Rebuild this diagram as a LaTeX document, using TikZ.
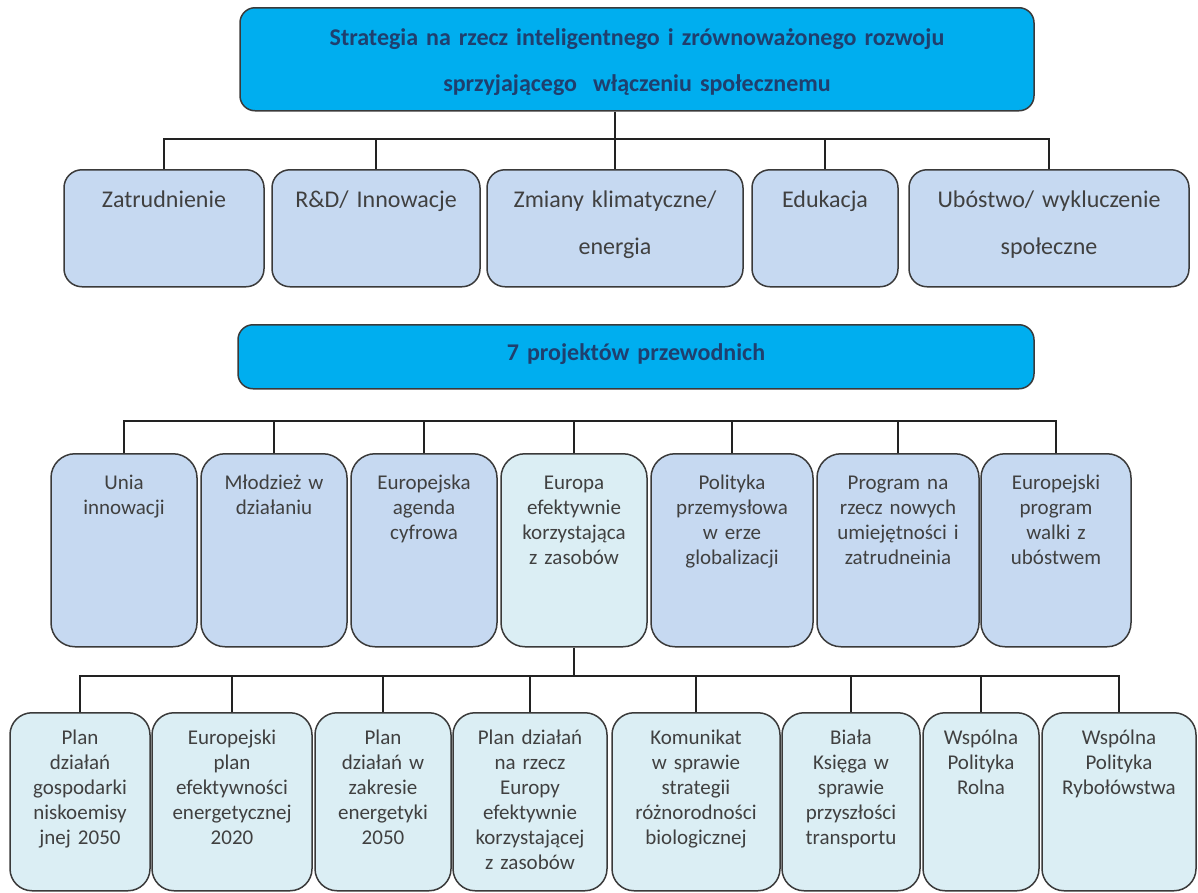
\documentclass[tikz,border=0pt]{standalone}
\usepackage{fontspec}
\setmainfont{Carlito}

\definecolor{headfill}{RGB}{0,174,239}
\definecolor{headtext}{RGB}{31,63,110}
\definecolor{goalfill}{RGB}{198,217,241}
\definecolor{planfill}{RGB}{219,238,244}
\definecolor{boxline}{RGB}{58,58,58}
\definecolor{boxtext}{RGB}{64,64,64}
\definecolor{busline}{RGB}{34,34,34}

\tikzset{
	head/.style={draw=boxline, line width=1.5pt, fill=headfill, rounded corners=15pt, anchor=north, align=center, inner sep=0pt, text=headtext, font=\fontsize{24}{46}\selectfont\bfseries},
	goal/.style={draw=boxline, line width=1.5pt, fill=goalfill, rounded corners=18pt, anchor=north, align=center, inner sep=0pt, text=boxtext, font=\fontsize{24}{47}\selectfont, text height=38pt, text depth=79pt},
	flag/.style={draw=boxline, line width=1.5pt, fill=goalfill, rounded corners=24pt, anchor=north, align=center, inner sep=0pt, text=boxtext, font=\fontsize{21}{25}\selectfont, text height=36pt, text depth=157pt},
	plan/.style={draw=boxline, line width=1.5pt, fill=planfill, rounded corners=22pt, anchor=north, align=center, inner sep=0pt, text=boxtext, font=\fontsize{21}{25}\selectfont, text height=32pt, text depth=146pt},
	bus/.style={draw=busline, line width=2pt}
}

\begin{document}
\begin{tikzpicture}[x=1pt, y=-1pt]
		\useasboundingbox (0,0) rectangle (1198,892);

		\node[head, text width=794pt, text height=38pt, text depth=65pt] (strat) at (637,7) {Strategia na rzecz inteligentnego i zrównoważonego rozwoju\\sprzyjającego\ \ włączeniu społecznemu};

		\node[goal, text width=200pt] (zat) at (164,169) {Zatrudnienie};
		\node[goal, text width=208pt] (rnd) at (376,169) {R\&D/ Innowacje};
		\node[goal, text width=256pt] (klim) at (615,169) {Zmiany klimatyczne/\\energia};
		\node[goal, text width=146pt] (edu) at (825,169) {Edukacja};
		\node[goal, text width=280pt] (ubo) at (1049,169) {Ubóstwo/ wykluczenie\\społeczne};

		\node[head, text width=796pt, text height=36pt, text depth=28pt] (proj) at (636,324) {7 projektów przewodnich};

		\node[flag, text width=146pt] (unia) at (124,453) {Unia\\innowacji};
		\node[flag, text width=146pt] (mlodz) at (274,453) {Młodzież w\\działaniu};
		\node[flag, text width=146pt] (cyfr) at (424,453) {Europejska\\agenda\\cyfrowa};
		\node[flag, fill=planfill, text width=146pt] (zasob) at (574,453) {Europa\\efektywnie\\korzystająca\\z zasobów};
		\node[flag, text width=162pt] (przem) at (732,453) {Polityka\\przemysłowa\\w erze\\globalizacji};
		\node[flag, text width=162pt] (umiej) at (898,453) {Program na\\rzecz nowych\\umiejętności i\\zatrudneinia};
		\node[flag, text width=150pt] (ubost) at (1056,453) {Europejski\\program\\walki z\\ubóstwem};

		\node[plan, text width=140pt] (p1) at (80,712) {Plan\\działań\\gospodarki\\niskoemisy\\jnej 2050};
		\node[plan, text width=160pt] (p2) at (232,712) {Europejski\\plan\\efektywności\\energetycznej\\2020};
		\node[plan, text width=136pt] (p3) at (383,712) {Plan\\działań w\\zakresie\\energetyki\\2050};
		\node[plan, text width=154pt] (p4) at (530,712) {Plan działań\\na rzecz\\Europy\\efektywnie\\korzystającej\\z zasobów};
		\node[plan, text width=168pt] (p5) at (696,712) {Komunikat\\w sprawie\\strategii\\różnorodności\\biologicznej};
		\node[plan, text width=138pt] (p6) at (851,712) {Biała\\Księga w\\sprawie\\przyszłości\\transportu};
		\node[plan, text width=116pt] (p7) at (981,712) {Wspólna\\Polityka\\Rolna};
		\node[plan, text width=154pt] (p8) at (1119,712) {Wspólna\\Polityka\\Rybołówstwa};

		\coordinate (bus1) at (0,139);
		\coordinate (bus2) at (0,421);
		\coordinate (bus3) at (0,676);

		\draw[bus] (klim.north |- strat.south) -- (klim.north);
		\draw[bus] (zat.north) -- (zat.north |- bus1) -- (ubo.north |- bus1) -- (ubo.north);
		\foreach \n in {rnd,edu}
			\draw[bus] (\n.north) -- (\n.north |- bus1);

		\draw[bus] (unia.north) -- (unia.north |- bus2) -- (ubost.north |- bus2) -- (ubost.north);
		\foreach \n in {mlodz,cyfr,zasob,przem,umiej}
			\draw[bus] (\n.north) -- (\n.north |- bus2);

		\draw[bus] (zasob.south) -- (zasob.south |- bus3);
		\draw[bus] (p1.north) -- (p1.north |- bus3) -- (p8.north |- bus3) -- (p8.north);
		\foreach \n in {p2,p3,p4,p5,p6,p7}
			\draw[bus] (\n.north) -- (\n.north |- bus3);
	\end{tikzpicture}
\end{document}
